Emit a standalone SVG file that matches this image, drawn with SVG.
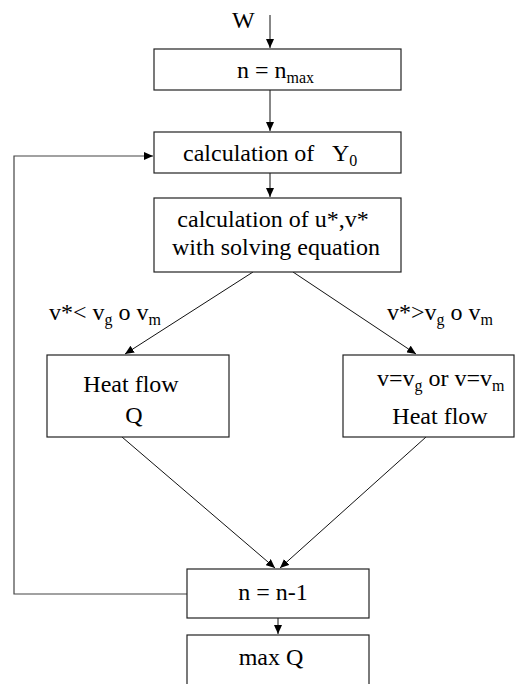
<svg xmlns="http://www.w3.org/2000/svg" width="515" height="684" viewBox="0 0 515 684">
<style>
  .box { fill: #ffffff; stroke: #222222; stroke-width: 1.2; }
  text { font-family: 'Liberation Serif', 'Times New Roman', 'DejaVu Serif', serif; font-size: 24px; fill: #000000; }
  .s { font-size: 16px; }
  .c { fill: none; stroke: #111111; stroke-width: 1; }
  .loop { fill: none; stroke: #444444; stroke-width: 1.2; }
</style>
<defs>
  <marker id="ah" markerUnits="userSpaceOnUse" markerWidth="10" markerHeight="8" refX="9" refY="4" orient="auto">
    <path d="M0,0 L9,4 L0,8 Z" fill="#000000"/>
  </marker>
</defs>
<rect width="515" height="684" fill="#ffffff"/>

<g id="connectors">
  <line class="c" x1="270" y1="15" x2="270" y2="48" marker-end="url(#ah)"/>
  <line class="c" x1="270" y1="90" x2="270" y2="131" marker-end="url(#ah)"/>
  <line class="c" x1="270" y1="173" x2="270" y2="197" marker-end="url(#ah)"/>
  <line class="c" x1="253" y1="272" x2="125" y2="354" marker-end="url(#ah)"/>
  <line class="c" x1="293" y1="272" x2="416" y2="354" marker-end="url(#ah)"/>
  <line class="c" x1="122" y1="437" x2="275" y2="568" marker-end="url(#ah)"/>
  <line class="c" x1="426" y1="437" x2="280" y2="568" marker-end="url(#ah)"/>
  <line class="c" x1="278" y1="618" x2="278" y2="634" marker-end="url(#ah)"/>
  <polyline class="loop" points="187,594 14,594 14,156 153,156" marker-end="url(#ah)"/>
  <text font-family="Liberation Serif, serif" x="49" y="320">v*&lt; v<tspan class="s" dy="5">g</tspan><tspan dy="-5"> o v</tspan><tspan class="s" dy="5">m</tspan></text>
  <text font-family="Liberation Serif, serif" x="387" y="320">v*&gt;v<tspan class="s" dy="5">g</tspan><tspan dy="-5"> o v</tspan><tspan class="s" dy="5">m</tspan></text>
</g>

<g id="start">
  <text x="232" y="28">W</text>
</g>

<g id="node-init">
  <rect class="box" x="154" y="49" width="247" height="41"/>
  <text x="237" y="78">n = n<tspan class="s" dy="5">max</tspan></text>
</g>

<g id="node-y0">
  <rect class="box" x="154" y="132" width="247" height="41"/>
  <text x="183" y="161">calculation of</text>
  <text x="332" y="161">Y<tspan class="s" dy="5">0</tspan></text>
</g>

<g id="node-uv">
  <rect class="box" x="154" y="198" width="247" height="74"/>
  <text x="273" y="227" text-anchor="middle">calculation of u*,v*</text>
  <text x="276" y="255" text-anchor="middle">with solving equation</text>
</g>

<g id="node-heat-left">
  <rect class="box" x="47" y="355" width="182" height="82"/>
  <text x="131" y="392" text-anchor="middle">Heat flow</text>
  <text x="134" y="423" text-anchor="middle">Q</text>
</g>

<g id="node-heat-right">
  <rect class="box" x="343" y="355" width="171" height="82"/>
  <text x="377" y="386">v=v<tspan class="s" dy="5">g</tspan><tspan dy="-5"> or v=v</tspan><tspan class="s" dy="5">m</tspan></text>
  <text x="440" y="424" text-anchor="middle">Heat flow</text>
</g>

<g id="node-decrement">
  <rect class="box" x="187" y="569" width="182" height="49"/>
  <text x="273" y="600" text-anchor="middle">n = n-1</text>
</g>

<g id="node-max">
  <rect class="box" x="187" y="635" width="182" height="60"/>
  <text x="271" y="665" text-anchor="middle">max Q</text>
</g>
</svg>
